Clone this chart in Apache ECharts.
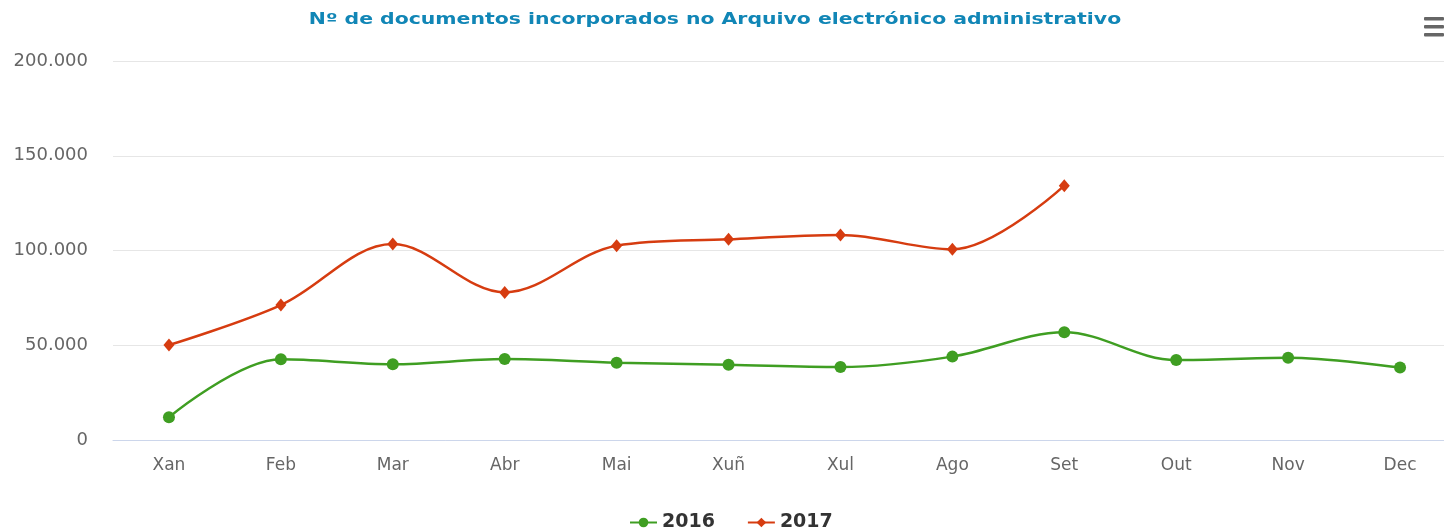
<!DOCTYPE html>
<html>
<head>
<meta charset="utf-8">
<script src="https://cdn.jsdelivr.net/npm/echarts@6/dist/echarts.min.js"></script>
<style>
  html, body { margin: 0; padding: 0; background: #ffffff; overflow: hidden; }
  #chart { width: 1444px; height: 529px; }
</style>
</head>
<body>
<div id="chart"></div>
<script>
// Monthly document counts (Galician month abbreviations)
const months = ['Xan', 'Feb', 'Mar', 'Abr', 'Mai', 'Xuñ', 'Xul', 'Ago', 'Set', 'Out', 'Nov', 'Dec'];
const docs2016 = [12000, 42600, 40000, 42700, 40800, 39700, 38500, 44000, 56800, 42200, 43400, 38200];
const docs2017 = [50100, 71200, 103400, 77900, 102500, 105900, 108200, 100600, 134200];
const yTicks = [0, 50000, 100000, 150000, 200000];
const chartTitle = 'Nº de documentos incorporados no Arquivo electrónico administrativo';

const GREEN = '#3f9e22';
const RED = '#d63c10';
const LABEL = '#666666';

function thousands(v) {
  return String(v).replace(/\B(?=(\d{3})+(?!\d))/g, '.');
}

const chart = echarts.init(document.getElementById('chart'), null, { renderer: 'canvas' });

chart.setOption({
  animation: false,
  backgroundColor: '#ffffff',
  legend: {
    bottom: -8,
    left: 624,
    itemGap: 32,
    itemWidth: 27,
    itemHeight: 12,
    textStyle: {
      color: '#333333',
      fontFamily: 'DejaVu Sans',
      fontWeight: 'bold',
      fontSize: 19
    },
    data: ['2016', '2017']
  },
  grid: {
    left: 113,
    width: 1343,
    top: 61,
    bottom: 89,
    containLabel: false,
    outerBoundsMode: 'none'
  },
  xAxis: {
    type: 'category',
    data: months,
    boundaryGap: true,
    axisLine: { lineStyle: { color: '#ccd6eb', width: 1 } },
    axisTick: { alignWithLabel: true, length: 10, lineStyle: { color: '#ccd6eb' } },
    axisLabel: {
      color: LABEL,
      fontFamily: 'DejaVu Sans',
      fontSize: 17,
      margin: 17
    },
    splitLine: { show: false }
  },
  yAxis: {
    type: 'value',
    min: yTicks[0],
    max: yTicks[yTicks.length - 1],
    interval: yTicks[1] - yTicks[0],
    axisLine: { show: false },
    axisTick: { show: false },
    axisLabel: {
      color: LABEL,
      fontFamily: 'DejaVu Sans',
      fontSize: 18,
      margin: 25,
      formatter: thousands
    },
    splitLine: { lineStyle: { color: '#e6e6e6', width: 1 } }
  },
  series: [
    {
      name: '2016',
      type: 'line',
      data: docs2016,
      smooth: 0.35,
      symbol: 'circle',
      symbolSize: 12,
      showAllSymbol: true,
      lineStyle: { color: GREEN, width: 2.5 },
      itemStyle: { color: GREEN }
    },
    {
      name: '2017',
      type: 'line',
      data: docs2017,
      smooth: 0.35,
      symbol: 'diamond',
      symbolSize: [11, 13],
      showAllSymbol: true,
      lineStyle: { color: RED, width: 2.5 },
      itemStyle: { color: RED }
    }
  ],
  graphic: [
    // chart heading, widened horizontally
    {
      type: 'text',
      x: 715,
      y: 20,
      scaleX: 1.275,
      style: {
        text: chartTitle,
        fill: '#1186b6',
        font: 'bold 16px "DejaVu Sans"',
        align: 'center',
        verticalAlign: 'middle'
      }
    },
    // context menu glyph in the top-right corner
    { type: 'rect', right: 0, top: 17, shape: { width: 20, height: 3.5, r: 1 }, style: { fill: '#666666' } },
    { type: 'rect', right: 0, top: 25, shape: { width: 20, height: 3.5, r: 1 }, style: { fill: '#666666' } },
    { type: 'rect', right: 0, top: 33, shape: { width: 20, height: 3.5, r: 1 }, style: { fill: '#666666' } }
  ]
});
</script>
</body>
</html>
